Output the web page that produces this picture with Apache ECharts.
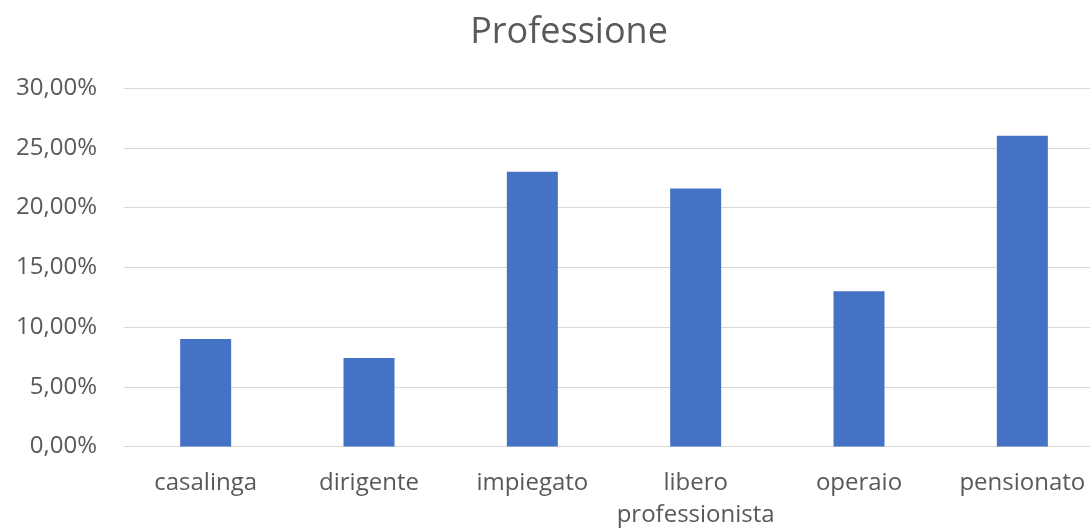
<!DOCTYPE html>
<html>
<head>
<meta charset="utf-8">
<script src="https://cdn.jsdelivr.net/npm/echarts@6/dist/echarts.min.js"></script>
<style>html,body{margin:0;padding:0;background:#fff;overflow:hidden;width:1090px;height:529px;}#c{width:1104px;height:529px;}</style>
</head>
<body>
<div id="c"></div>
<script>
var titleText = 'Professione';
var categories = ['casalinga', 'dirigente', 'impiegato', 'libero\nprofessionista', 'operaio', 'pensionato'];
var values = [9.0, 7.4, 23.0, 21.6, 13.0, 26.0];
var yMin = 0, yMax = 30, yStep = 5;

var chart = echarts.init(document.getElementById('c'));
chart.setOption({
  animation: false,
  backgroundColor: '#ffffff',
  title: {
    text: titleText,
    left: 564, top: 10, textAlign: 'center',
    textStyle: { fontFamily: 'Open Sans', fontSize: 36, fontWeight: 'normal', color: '#595959' }
  },
  grid: { left: 124, top: 88, right: 0, height: 358.5, containLabel: false, outerBoundsMode: 'none' },
  xAxis: {
    type: 'category',
    data: categories,
    axisLine: { lineStyle: { color: '#D9D9D9', width: 1 } },
    axisTick: { show: false },
    axisLabel: { margin: 21, fontFamily: 'Open Sans', fontSize: 24, color: '#595959', lineHeight: 32, interval: 0 }
  },
  yAxis: {
    type: 'value',
    min: yMin, max: yMax, interval: yStep,
    axisLine: { show: false },
    axisTick: { show: false },
    splitLine: { lineStyle: { color: '#D9D9D9', width: 1 } },
    axisLabel: {
      margin: 27, fontFamily: 'Open Sans', fontSize: 24, color: '#595959',
      formatter: function (v) { return v.toFixed(2).replace('.', ',') + '%'; }
    }
  },
  series: [{
    type: 'bar',
    data: values,
    barWidth: 51,
    itemStyle: { color: '#4472C4' }
  }]
});
</script>
</body>
</html>
